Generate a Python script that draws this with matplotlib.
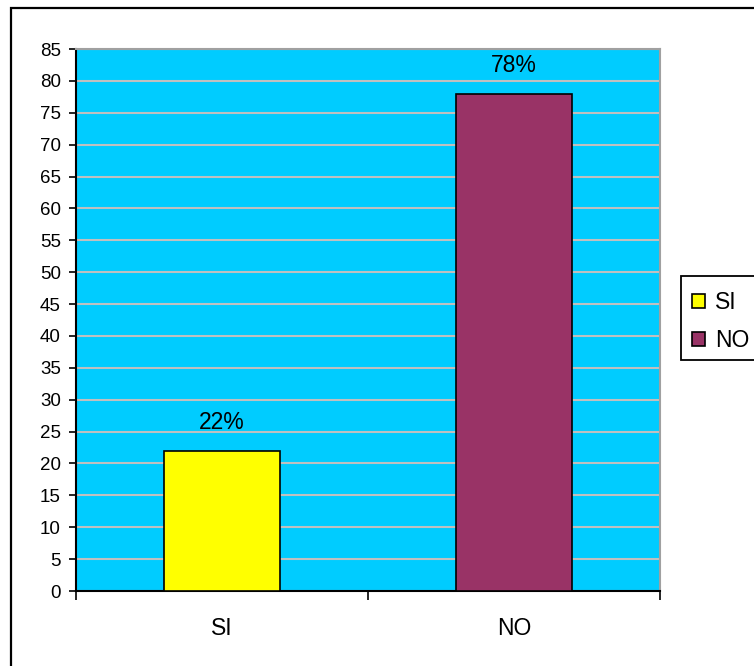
import matplotlib
matplotlib.use("Agg")
import matplotlib.pyplot as plt
from matplotlib.patches import Rectangle, Patch

categories = ["SI", "NO"]
values = [22, 78]
labels = ["22%", "78%"]
colors = ["#FFFF00", "#993366"]
yticks = list(range(0, 90, 5))

plt.rcParams['font.family'] = ['Liberation Sans', 'DejaVu Sans']

W, H = 754, 666
fig = plt.figure(figsize=(W / 100, H / 100), dpi=100)
fig.patch.set_facecolor("white")

# outer chart border
fig.patches.append(Rectangle((11 / W, -0.1), 1.2, 1 - 8 / H + 0.1, transform=fig.transFigure,
                             fill=False, edgecolor="black", linewidth=1.6, zorder=0))

ax = fig.add_axes([76 / W, 1 - 591 / H, (660 - 76) / W, (591 - 49) / H])
ax.set_facecolor("#00CCFF")
x = list(range(len(categories)))
bars = ax.bar(x, values, width=0.4, color=colors, edgecolor="black", linewidth=1.2, zorder=3)
ax.set_xlim(-0.5, 1.5)
ax.set_ylim(0, 85)
ax.set_yticks(yticks)
ax.yaxis.grid(True, color="#C0C0C0", linewidth=1.5, zorder=1)
ax.set_axisbelow(True)
ax.tick_params(axis="y", direction="out", length=5, width=1.2, labelsize=13.5, pad=6, colors="black")

ax.set_xticks(x)
ax.set_xticklabels(categories, fontsize=16.5)
ax.tick_params(axis="x", which="major", length=0, pad=19)
ax.set_xticks([-0.5, 0.5, 1.5], minor=True)
ax.tick_params(axis="x", which="minor", direction="out", length=6.5, width=1.2)

for s in ["left", "bottom"]:
    ax.spines[s].set_color("black")
    ax.spines[s].set_linewidth(1.5)
for s in ["top", "right"]:
    ax.spines[s].set_color("#A0A0A0")
    ax.spines[s].set_linewidth(1.5)

for xi, v, lab in zip(x, values, labels):
    ax.annotate(lab, (xi, v), xytext=(0, 12), textcoords="offset points",
                ha="center", va="bottom", fontsize=16.5)

# legend
fig.patches.append(Rectangle((681 / W, 1 - 360 / H), 0.2, (360 - 276) / H, transform=fig.transFigure,
                             fill=True, facecolor="white", edgecolor="black", linewidth=1.3, zorder=1))
handles = [Patch(facecolor=c, edgecolor="black", linewidth=1.2) for c in colors]
leg = fig.legend(handles, categories, loc="upper left", bbox_to_anchor=(692 / W, 1 - 291 / H),
                 frameon=False, fontsize=16.5, handlelength=0.55, handleheight=0.55,
                 handletextpad=0.45, labelspacing=0.65, borderpad=0, borderaxespad=0)

fig.savefig("out.png", dpi=100)
